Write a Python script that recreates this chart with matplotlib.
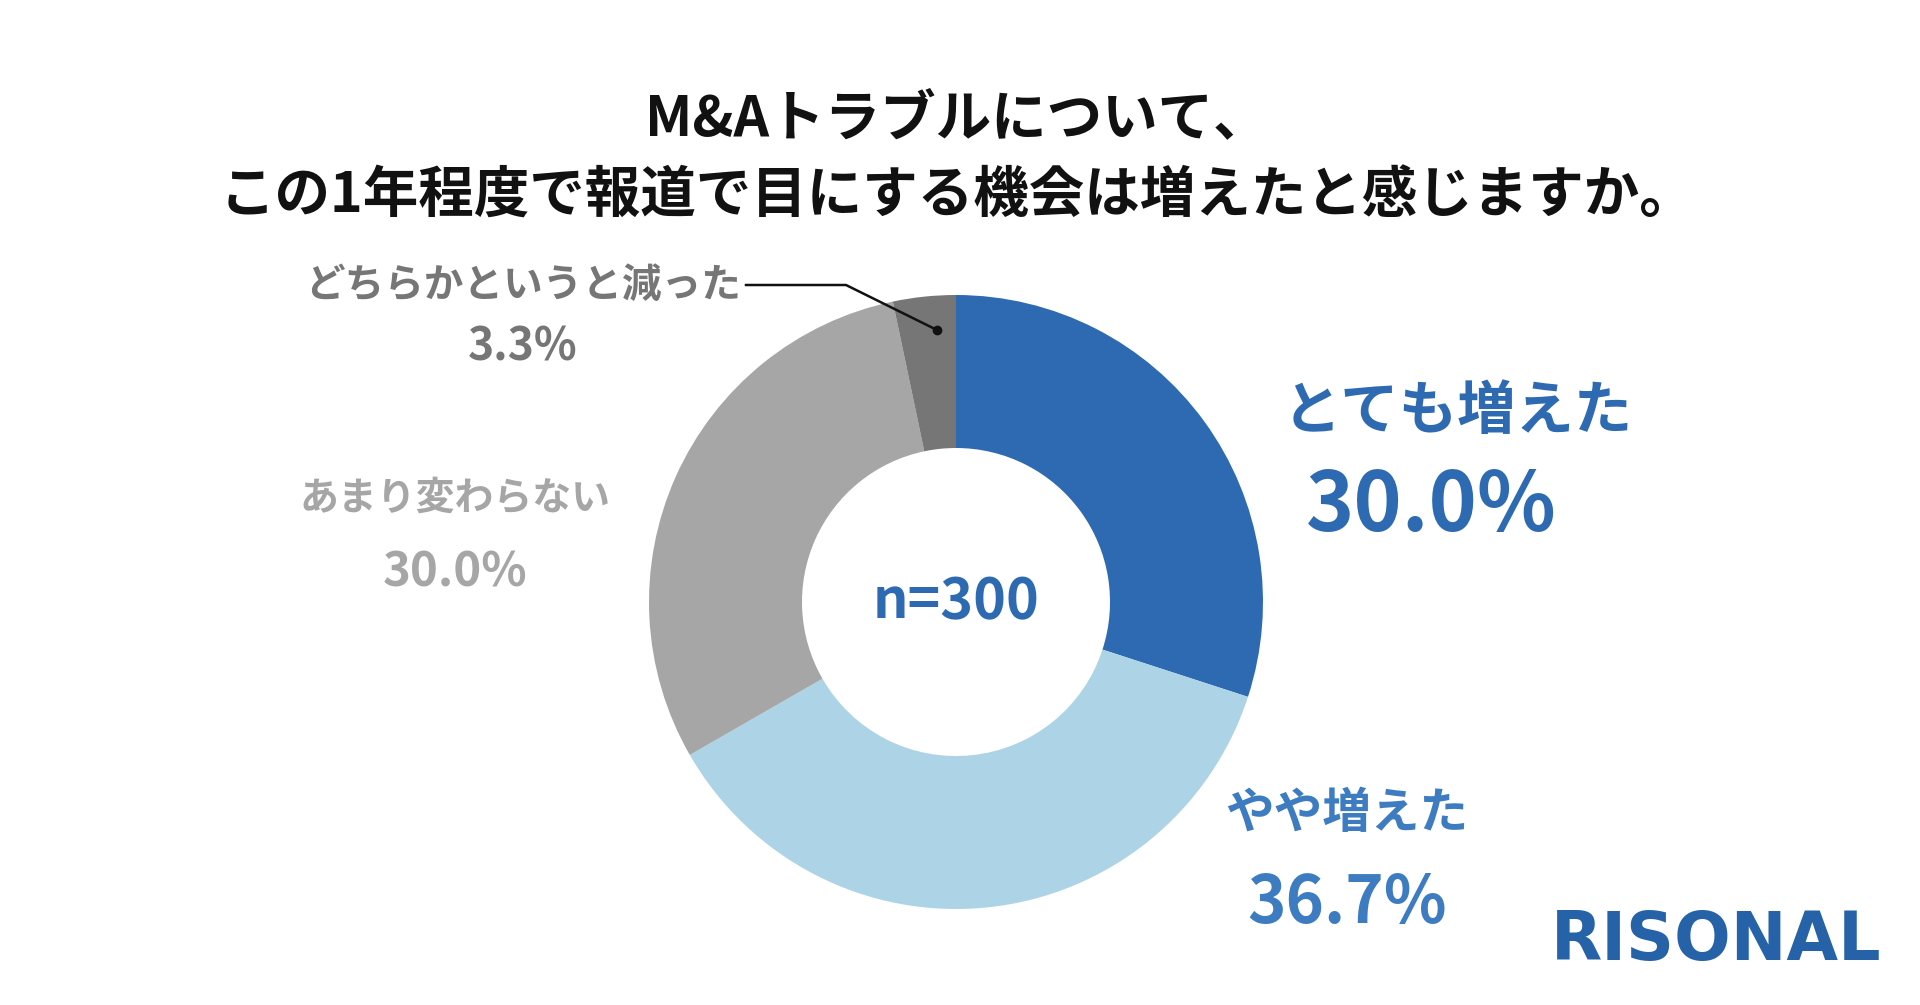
import matplotlib
matplotlib.use("Agg")
import matplotlib.pyplot as plt

plt.rcParams["font.family"] = "Noto Sans CJK JP"

categories = ["とても増えた", "やや増えた", "あまり変わらない", "どちらかというと減った"]
values = [30.0, 36.7, 30.0, 3.3]
colors = ["#2e6ab1", "#acd3e6", "#a6a6a6", "#767676"]

W, H = 1920, 1005
fig = plt.figure(figsize=(W / 100, H / 100), dpi=100)
ax = fig.add_axes([0, 0, 1, 1])


def Y(y):
    return H - y


cx, cy, r = 956, 602, 307
ax.pie(values, colors=colors, startangle=90, counterclock=False,
       center=(cx, Y(cy)), radius=r, frame=True,
       wedgeprops=dict(width=r - 154, linewidth=0))
ax.set_xlim(0, W)
ax.set_ylim(0, H)
ax.set_aspect("equal")
ax.axis("off")

ax.text(957, Y(119), "M&Aトラブルについて、", ha="center", va="center",
        fontsize=40, fontweight="bold", color="#111111")
ax.text(957, Y(197), "この1年程度で報道で目にする機会は増えたと感じますか。",
        ha="center", va="center", fontsize=40, fontweight="bold", color="#111111")

ax.text(956, Y(602), "n=300", ha="center", va="center", fontsize=40,
        fontweight="bold", color="#2e6ab1")

ax.text(1458, Y(412), categories[0], ha="center", va="center", fontsize=42,
        fontweight="bold", color="#2e6ab1")
ax.text(1431, Y(507), f"{values[0]:.1f}%", ha="center", va="center", fontsize=59,
        fontweight="bold", color="#2e6ab1")
ax.text(1347, Y(814), categories[1], ha="center", va="center", fontsize=35,
        fontweight="bold", color="#3d7cc0")
ax.text(1347, Y(904), f"{values[1]:.1f}%", ha="center", va="center", fontsize=47,
        fontweight="bold", color="#3d7cc0")
ax.text(455, Y(498), categories[2], ha="center", va="center", fontsize=28,
        fontweight="bold", color="#a6a6a6")
ax.text(455, Y(572), f"{values[2]:.1f}%", ha="center", va="center", fontsize=34,
        fontweight="bold", color="#a6a6a6")
ax.text(523, Y(285), categories[3], ha="center", va="center", fontsize=28.5,
        fontweight="bold", color="#767676")
ax.text(523, Y(347), f"{values[3]:.1f}%", ha="center", va="center", fontsize=32,
        fontweight="bold", color="#767676")

ax.plot([746, 846, 937], [Y(285), Y(285), Y(330)], color="#111111", lw=1.8)
ax.plot([937], [Y(330)], "o", color="#111111", ms=6)

ax.text(1716, Y(941), "RISONAL", ha="center", va="center", fontsize=48,
        fontweight="bold", color="#2662a8", family="DejaVu Sans")

fig.savefig("out.png", dpi=100, facecolor="white")
